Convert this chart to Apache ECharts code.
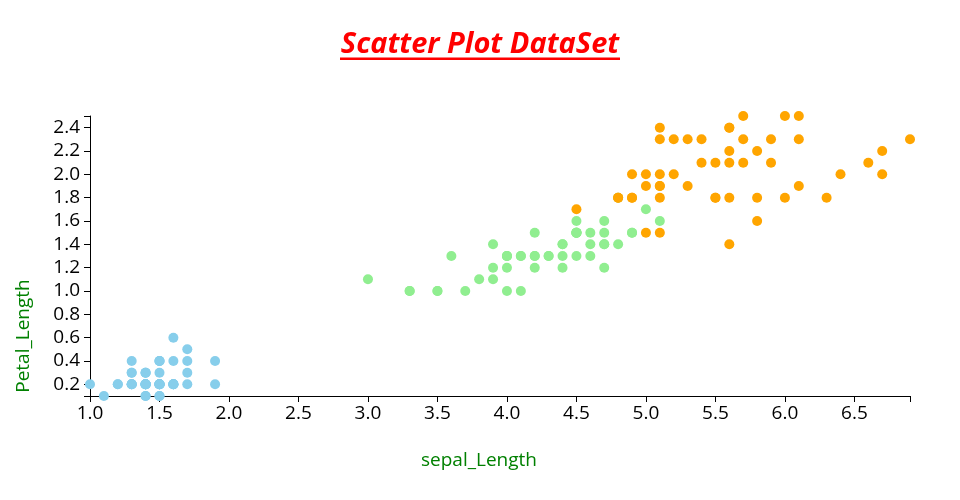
<!DOCTYPE html>
<html>
<head>
<meta charset="utf-8">
<script src="https://cdn.jsdelivr.net/npm/echarts@6/dist/echarts.min.js"></script>
<style>html,body{margin:0;padding:0;background:#fff;}#c{width:960px;height:500px;}</style>
</head>
<body>
<div id="c"></div>
<script>
// petal length / petal width pairs per species
const setosa = [[1.4,0.2],[1.4,0.2],[1.3,0.2],[1.5,0.2],[1.4,0.2],[1.7,0.4],[1.4,0.3],[1.5,0.2],[1.4,0.2],[1.5,0.1],
  [1.5,0.2],[1.6,0.2],[1.4,0.1],[1.1,0.1],[1.2,0.2],[1.5,0.4],[1.3,0.4],[1.4,0.3],[1.7,0.3],[1.5,0.3],
  [1.7,0.2],[1.5,0.4],[1.0,0.2],[1.7,0.5],[1.9,0.2],[1.6,0.2],[1.6,0.4],[1.5,0.2],[1.4,0.2],[1.6,0.2],
  [1.6,0.2],[1.5,0.4],[1.5,0.1],[1.4,0.2],[1.5,0.2],[1.2,0.2],[1.3,0.2],[1.4,0.1],[1.3,0.2],[1.5,0.2],
  [1.3,0.3],[1.3,0.3],[1.3,0.2],[1.6,0.6],[1.9,0.4],[1.4,0.3],[1.6,0.2],[1.4,0.2],[1.5,0.2],[1.4,0.2]];
const versicolor = [[4.7,1.4],[4.5,1.5],[4.9,1.5],[4.0,1.3],[4.6,1.5],[4.5,1.3],[4.7,1.6],[3.3,1.0],[4.6,1.3],[3.9,1.4],
  [3.5,1.0],[4.2,1.5],[4.0,1.0],[4.7,1.4],[3.6,1.3],[4.4,1.4],[4.5,1.5],[4.1,1.0],[4.5,1.5],[3.9,1.1],
  [4.8,1.8],[4.0,1.3],[4.9,1.5],[4.7,1.2],[4.3,1.3],[4.4,1.4],[4.8,1.4],[5.0,1.7],[4.5,1.5],[3.5,1.0],
  [3.8,1.1],[3.7,1.0],[3.9,1.2],[5.1,1.6],[4.5,1.5],[4.5,1.6],[4.7,1.5],[4.4,1.3],[4.1,1.3],[4.0,1.3],
  [4.4,1.2],[4.6,1.4],[4.0,1.2],[3.3,1.0],[4.2,1.3],[4.2,1.2],[4.2,1.3],[4.3,1.3],[3.0,1.1],[4.1,1.3]];
const virginica = [[6.0,2.5],[5.1,1.9],[5.9,2.1],[5.6,1.8],[5.8,2.2],[6.6,2.1],[4.5,1.7],[6.3,1.8],[5.8,1.8],[6.1,2.5],
  [5.1,2.0],[5.3,1.9],[5.5,2.1],[5.0,2.0],[5.1,2.4],[5.3,2.3],[5.5,1.8],[6.7,2.2],[6.9,2.3],[5.0,1.5],
  [5.7,2.3],[4.9,2.0],[6.7,2.0],[4.9,1.8],[5.7,2.1],[6.0,1.8],[4.8,1.8],[4.9,1.8],[5.6,2.1],[5.8,1.6],
  [6.1,1.9],[6.4,2.0],[5.6,2.2],[5.1,1.5],[5.6,1.4],[6.1,2.3],[5.6,2.4],[5.5,1.8],[4.8,1.8],[5.4,2.1],
  [5.6,2.4],[5.1,2.3],[5.1,1.9],[5.9,2.3],[5.7,2.5],[5.2,2.3],[5.0,1.9],[5.2,2.0],[5.4,2.3],[5.1,1.8]];
const xTickLabels = [1.0,1.5,2.0,2.5,3.0,3.5,4.0,4.5,5.0,5.5,6.0,6.5];
const yTickLabels = [0.2,0.4,0.6,0.8,1.0,1.2,1.4,1.6,1.8,2.0,2.2,2.4];
const xMin = 1.0, xMax = 6.9, yMin = 0.1, yMax = 2.5;
const titleText = 'Scatter Plot DataSet';
const xName = 'sepal_Length', yName = 'Petal_Length';

const FONT = 'Open Sans';
const chart = echarts.init(document.getElementById('c'), null, {renderer: 'canvas'});
const mkSeries = (data, color) => ({
  type: 'scatter', data: data, symbolSize: 10, clip: false,
  itemStyle: {color: color, opacity: 1}, emphasis: {disabled: true}, animation: false
});
chart.setOption({
  animation: false,
  title: {
    text: titleText, left: 'center', top: 25,
    textStyle: {color: '#ff0000', fontFamily: FONT, fontSize: 29, fontWeight: 'bold', fontStyle: 'italic'}
  },
  graphic: [
    {type: 'rect', shape: {x: 340, y: 57.5, width: 280, height: 2.5}, style: {fill: '#ff0000'}, silent: true},
    {type: 'text', x: 479, y: 461, silent: true,
      style: {text: xName, fill: '#008000', font: '19px "Open Sans"', align: 'center', verticalAlign: 'middle'}},
    {type: 'text', x: 23.5, y: 336, rotation: Math.PI / 2, silent: true,
      style: {text: yName, fill: '#008000', font: '19px "Open Sans"', align: 'center', verticalAlign: 'middle'}}
  ],
  grid: {left: 90, right: 50, top: 116, bottom: 104, containLabel: false},
  xAxis: {
    type: 'value', min: xMin, max: xMax,
    splitLine: {show: false},
    axisLine: {show: true, onZero: false, lineStyle: {color: '#000', width: 1}},
    axisTick: {show: true, length: 6, lineStyle: {color: '#000'}, customValues: xTickLabels.concat([xMax])},
    axisLabel: {color: '#000', fontFamily: FONT, fontSize: 19, margin: 8,
      customValues: xTickLabels, formatter: v => v.toFixed(1)}
  },
  yAxis: {
    type: 'value', min: yMin, max: yMax,
    splitLine: {show: false},
    axisLine: {show: true, onZero: false, lineStyle: {color: '#000', width: 1}},
    axisTick: {show: true, length: 6, lineStyle: {color: '#000'}, customValues: [yMin].concat(yTickLabels, [yMax])},
    axisLabel: {color: '#000', fontFamily: FONT, fontSize: 19, margin: 10,
      customValues: yTickLabels, formatter: v => v.toFixed(1)}
  },
  series: [
    mkSeries(setosa, '#87ceeb'),
    mkSeries(versicolor, '#90ee90'),
    mkSeries(virginica, '#ffa500')
  ]
});
</script>
</body>
</html>
